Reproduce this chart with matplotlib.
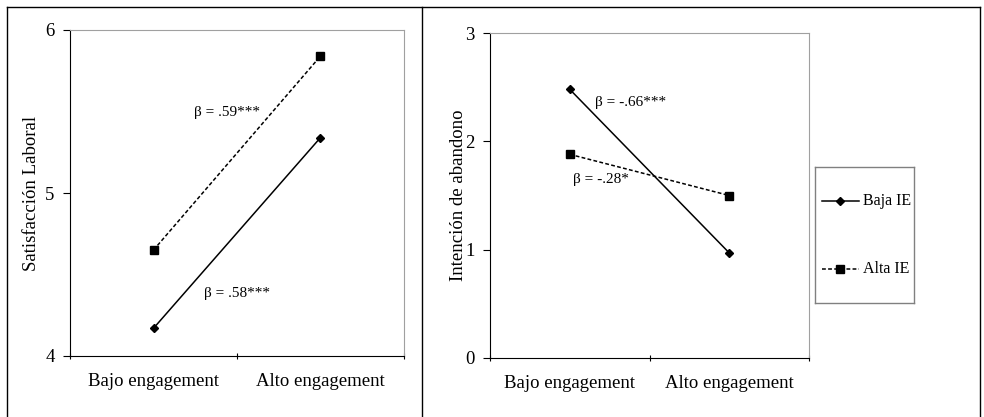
import matplotlib.pyplot as plt
from matplotlib.lines import Line2D

categories = ["Bajo engagement", "Alto engagement"]
satisf_baja = [4.17, 5.34]
satisf_alta = [4.65, 5.84]
abandono_baja = [2.48, 0.97]
abandono_alta = [1.88, 1.50]
series_labels = ["Baja IE", "Alta IE"]

plt.rcParams["font.family"] = ["Liberation Serif", "DejaVu Serif"]

W, H = 984, 417
fig = plt.figure(figsize=(W / 100, H / 100), dpi=100)


def px_axes(x0, y0, x1, y1):
    return fig.add_axes([x0 / W, 1 - y1 / H, (x1 - x0) / W, (y1 - y0) / H])


def style_axes(ax, ylim, yticks, ylabel, labelpad):
    xs = [0.5, 1.5]
    ax.set_xlim(0, 2)
    ax.set_ylim(*ylim)
    ax.set_xticks([0, 1, 2])
    ax.set_xticklabels([])
    ax.set_xticks(xs, minor=True)
    ax.set_xticklabels(categories, minor=True, fontsize=13.5)
    ax.tick_params(axis="x", which="minor", length=0, pad=12)
    ax.tick_params(axis="x", which="major", length=5, direction="inout", width=0.8)
    ax.set_yticks(yticks)
    ax.tick_params(axis="y", length=5, direction="out", width=0.8, labelsize=13.5, pad=6)
    for s in ["top", "right"]:
        ax.spines[s].set_color("#a0a0a0")
        ax.spines[s].set_linewidth(0.8)
    for s in ["left", "bottom"]:
        ax.spines[s].set_color("black")
        ax.spines[s].set_linewidth(0.8)
    ax.set_ylabel(ylabel, fontsize=13.5, labelpad=labelpad)
    return xs


# left panel
ax1 = px_axes(70, 30, 404, 356)
xs = style_axes(ax1, (4, 6), [4, 5, 6], "Satisfacción Laboral", 4)
ax1.plot(xs, satisf_baja, color="black", lw=1.1, marker="D", ms=4.5)
ax1.plot(xs, satisf_alta, color="black", lw=1.1, ls=(0, (2.5, 1.5)), marker="s", ms=6)
ax1.text(0.74, 5.47, "β = .59***", fontsize=11)
ax1.text(0.8, 4.36, "β = .58***", fontsize=11)

# right panel
ax2 = px_axes(490, 33, 809, 358)
xs = style_axes(ax2, (0, 3), [0, 1, 2, 3], "Intención de abandono", -1)
ax2.plot(xs, abandono_baja, color="black", lw=1.1, marker="D", ms=4.5, label=series_labels[0])
ax2.plot(xs, abandono_alta, color="black", lw=1.1, ls=(0, (2.5, 1.5)), marker="s", ms=6,
         label=series_labels[1])
ax2.text(0.66, 2.33, "β = -.66***", fontsize=11)
ax2.text(0.52, 1.62, "β = -.28*", fontsize=11)

# legend box
lax = px_axes(815, 167, 914, 303)
lax.set_xlim(0, 1)
lax.set_ylim(0, 1)
lax.set_xticks([])
lax.set_yticks([])
for s in lax.spines.values():
    s.set_color("#808080")
    s.set_linewidth(1.0)
lax.plot([0.07, 0.44], [0.75, 0.75], color="black", lw=1.1)
lax.plot([0.255], [0.75], color="black", marker="D", ms=4.5)
lax.text(0.48, 0.75, series_labels[0], fontsize=11.5, va="center")
lax.plot([0.07, 0.44], [0.25, 0.25], color="black", lw=1.1, ls=(0, (2.5, 1.5)))
lax.plot([0.255], [0.25], color="black", marker="s", ms=6)
lax.text(0.48, 0.25, series_labels[1], fontsize=11.5, va="center")

# outer frame lines
frame = dict(color="black", lw=1.0, transform=fig.transFigure)
fig.add_artist(Line2D([7 / W, 7 / W], [0, 1 - 7 / H], **frame))
fig.add_artist(Line2D([7 / W, 980 / W], [1 - 7 / H, 1 - 7 / H], **frame))
fig.add_artist(Line2D([980 / W, 980 / W], [0, 1 - 7 / H], **frame))
fig.add_artist(Line2D([422 / W, 422 / W], [0, 1 - 7 / H], **frame))

fig.savefig("out.png", dpi=100)
